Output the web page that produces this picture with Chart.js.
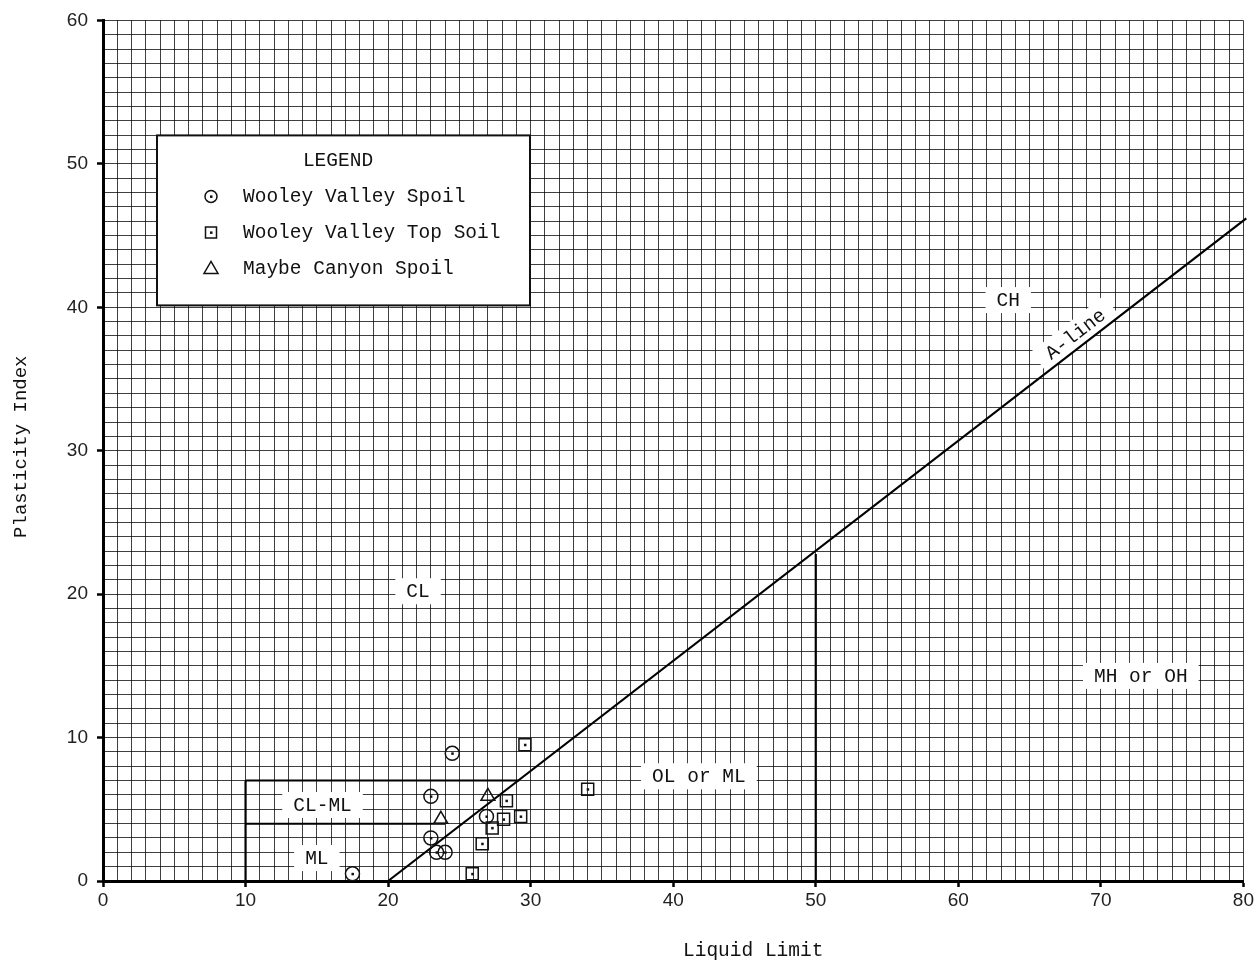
<!DOCTYPE html>
<html>
<head>
<meta charset="utf-8">
<title>Plasticity Chart</title>
<script src="https://cdn.jsdelivr.net/npm/chart.js@4.4.0/dist/chart.umd.min.js"></script>
<style>
    body { margin: 0; background: #fff; }
    #wrap { width: 1256px; height: 966px; }
</style>
</head>
<body>
<div id="wrap"><canvas id="chart"></canvas></div>
<script>
// ---- data ----
const spoilLL = [17.5, 24.5, 23.0, 23.0, 23.4, 24.0, 26.9];
const spoilPI = [0.5, 8.9, 5.9, 3.0, 2.0, 2.0, 4.5];

const topSoilLL = [29.6, 34.0, 28.3, 28.1, 29.3, 27.3, 26.6, 25.9];
const topSoilPI = [9.5, 6.4, 5.6, 4.3, 4.5, 3.7, 2.6, 0.5];

const canyonLL = [27.0, 23.7];
const canyonPI = [5.9, 4.3];

// A-line and zone boundaries
const aLineLL = [20, 80.2];
const aLinePI = [0, 46.2];
const ll50LL = [50, 50];
const ll50PI = [0, 22.8];
const clmlLeftLL = [10, 10];
const clmlLeftPI = [0, 7];
const clmlTopLL = [10, 29.2];
const clmlTopPI = [7, 7];
const clmlLowLL = [10, 24];
const clmlLowPI = [4, 4];

const seriesNames = ['Wooley Valley Spoil', 'Wooley Valley Top Soil', 'Maybe Canyon Spoil'];

// zone labels (LL, PI)
const zoneLabels = ['CL', 'CH', 'MH or OH', 'OL or ML', 'CL-ML', 'ML'];
const zoneLL = [22.1, 63.5, 72.8, 41.8, 15.4, 15.0];
const zonePI = [20.2, 40.5, 14.3, 7.3, 5.3, 1.6];

const MONO = '"Liberation Mono", "DejaVu Sans Mono", monospace';

function pts(xs, ys) {
    return xs.map((v, i) => ({ x: v, y: ys[i] }));
}

function lineSet(xs, ys, w) {
    return {
        type: 'line',
        data: pts(xs, ys),
        borderColor: '#000',
        borderWidth: w,
        pointRadius: 0,
        fill: false,
        tension: 0,
        clip: false
    };
}

// ---- drawing helpers ----
function labelBox(ctx, text, px, py, angle) {
    ctx.save();
    ctx.translate(px, py);
    if (angle) ctx.rotate(angle);
    ctx.font = '19.5px ' + MONO;
    const w = ctx.measureText(text).width;
    ctx.fillStyle = '#fff';
    ctx.fillRect(-w / 2 - 11, -13, w + 22, 26);
    ctx.fillStyle = '#111';
    ctx.textAlign = 'center';
    ctx.textBaseline = 'middle';
    ctx.fillText(text, 0, 1);
    ctx.restore();
}

function marker(ctx, kind, x, y) {
    ctx.save();
    ctx.strokeStyle = '#111';
    ctx.lineWidth = 1.5;
    ctx.beginPath();
    if (kind === 'circle') {
        ctx.arc(x, y, 6, 0, Math.PI * 2);
    } else if (kind === 'rect') {
        ctx.rect(x - 5.5, y - 5.5, 11, 11);
    } else {
        ctx.moveTo(x, y - 7);
        ctx.lineTo(x + 7, y + 5);
        ctx.lineTo(x - 7, y + 5);
        ctx.closePath();
    }
    ctx.stroke();
    if (kind !== 'triangle') {
        ctx.fillStyle = '#111';
        ctx.fillRect(x - 1, y - 1, 2.5, 2.5);
    }
    ctx.restore();
}

// zone labels go under the data lines, legend and titles on top
const chartDecor = {
    id: 'chartDecor',
    beforeDatasetsDraw(chart) {
        const { ctx, scales: { x, y } } = chart;
        zoneLabels.forEach((t, i) => {
            labelBox(ctx, t, x.getPixelForValue(zoneLL[i]), y.getPixelForValue(zonePI[i]));
        });
        // A-line label, rotated along the line
        const x1 = x.getPixelForValue(aLineLL[0]), y1 = y.getPixelForValue(aLinePI[0]);
        const x2 = x.getPixelForValue(aLineLL[1]), y2 = y.getPixelForValue(aLinePI[1]);
        const ang = Math.atan2(y2 - y1, x2 - x1);
        const t = 0.81;
        const px = x1 + (x2 - x1) * t + Math.sin(ang) * 13;
        const py = y1 + (y2 - y1) * t - Math.cos(ang) * 13;
        labelBox(ctx, 'A-line', px, py, ang);
    },
    afterDatasetsDraw(chart) {
        const { ctx, chartArea: a } = chart;

        // dots in the middle of circle and square markers
        chart.data.datasets.forEach((ds, i) => {
            if (!ds.centerDot) return;
            chart.getDatasetMeta(i).data.forEach(el => {
                ctx.fillStyle = '#111';
                ctx.fillRect(el.x - 1, el.y - 1, 2.5, 2.5);
            });
        });

        // legend box
        const lx = a.left + 54, ly = a.top + 115, lw = 373, lh = 170;
        ctx.save();
        ctx.fillStyle = '#fff';
        ctx.fillRect(lx, ly, lw, lh);
        ctx.strokeStyle = '#111';
        ctx.lineWidth = 2;
        ctx.strokeRect(lx, ly, lw, lh);
        ctx.fillStyle = '#111';
        ctx.font = '19.5px ' + MONO;
        ctx.textBaseline = 'middle';
        ctx.textAlign = 'center';
        ctx.fillText('LEGEND', lx + 181, ly + 25);
        ctx.textAlign = 'left';
        const kinds = ['circle', 'rect', 'triangle'];
        seriesNames.forEach((name, i) => {
            const ry = ly + 61 + i * 36;
            marker(ctx, kinds[i], lx + 54, ry);
            ctx.fillStyle = '#111';
            ctx.fillText(name, lx + 86, ry);
        });

        // axis titles
        ctx.font = '19.5px ' + MONO;
        ctx.textAlign = 'center';
        ctx.fillText('Liquid Limit', (a.left + a.right) / 2 + 80, 951);
        ctx.translate(21, (a.top + a.bottom) / 2 - 4);
        ctx.rotate(-Math.PI / 2);
        ctx.font = '19px ' + MONO;
        ctx.fillText('Plasticity Index', 0, 0);
        ctx.restore();
    }
};

const tickFont = { family: '"Liberation Sans", Arial, sans-serif', size: 19 };
const gridStyle = {
    color: 'rgba(0,0,0,0.75)',
    lineWidth: 1,
    tickLength: 6,
    tickColor: ctx => (ctx.tick && ctx.tick.value % 10 === 0 ? '#000' : 'rgba(0,0,0,0)'),
    tickWidth: 2.5
};

new Chart(document.getElementById('chart'), {
    type: 'scatter',
    data: {
        datasets: [
            {
                label: seriesNames[0],
                data: pts(spoilLL, spoilPI),
                pointStyle: 'circle',
                pointRadius: 7,
                borderColor: '#111',
                borderWidth: 1.5,
                backgroundColor: 'rgba(0,0,0,0)',
                centerDot: true
            },
            {
                label: seriesNames[1],
                data: pts(topSoilLL, topSoilPI),
                pointStyle: 'rect',
                pointRadius: 8.5,
                borderColor: '#111',
                borderWidth: 1.5,
                backgroundColor: 'rgba(0,0,0,0)',
                centerDot: true
            },
            {
                label: seriesNames[2],
                data: pts(canyonLL, canyonPI),
                pointStyle: 'triangle',
                pointRadius: 8,
                borderColor: '#111',
                borderWidth: 1.5,
                backgroundColor: 'rgba(0,0,0,0)'
            },
            lineSet(aLineLL, aLinePI, 2.2),
            lineSet(ll50LL, ll50PI, 2.2),
            lineSet(clmlLeftLL, clmlLeftPI, 2.2),
            lineSet(clmlTopLL, clmlTopPI, 2),
            lineSet(clmlLowLL, clmlLowPI, 2)
        ]
    },
    options: {
        responsive: true,
        maintainAspectRatio: false,
        animation: false,
        layout: { padding: { top: 18, right: 11, left: 0, bottom: 0 } },
        plugins: {
            legend: { display: false },
            tooltip: { enabled: false }
        },
        scales: {
            x: {
                type: 'linear',
                min: 0,
                max: 80,
                afterFit: s => { s.height = 85; },
                border: { color: '#000', width: 3 },
                grid: gridStyle,
                ticks: {
                    stepSize: 1,
                    autoSkip: false,
                    maxRotation: 0,
                    padding: 2,
                    color: '#222',
                    font: tickFont,
                    callback: v => (v % 10 === 0 ? v : '')
                }
            },
            y: {
                type: 'linear',
                min: 0,
                max: 60,
                afterFit: s => { s.width = 103; },
                border: { color: '#000', width: 3 },
                grid: gridStyle,
                ticks: {
                    stepSize: 1,
                    autoSkip: false,
                    padding: 9,
                    color: '#222',
                    font: tickFont,
                    callback: v => (v % 10 === 0 ? v : '')
                }
            }
        }
    },
    plugins: [chartDecor]
});
</script>
</body>
</html>
